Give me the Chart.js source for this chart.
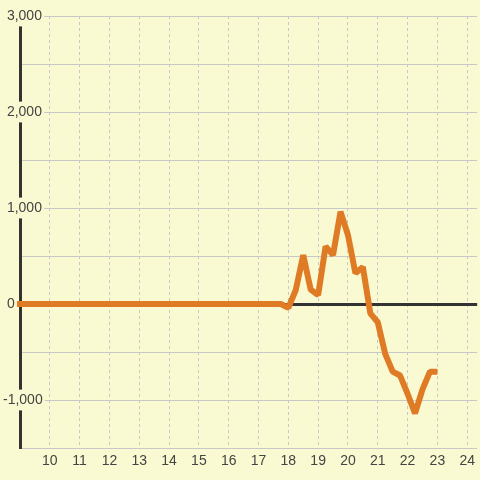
<!DOCTYPE html>
<html>
<head>
<meta charset="utf-8">
<script src="https://cdn.jsdelivr.net/npm/chart.js@4"></script>
<style>
  html, body { margin: 0; padding: 0; background: #fafad2; }
  #wrap { width: 480px; height: 480px; }
</style>
</head>
<body>
<div id="wrap"><canvas id="chart" width="480" height="480"></canvas></div>
<script>
// hours of the day (quarter-hour readings) and the value at each
const hours = [8.75, 17.75, 18, 18.25, 18.5, 18.75, 19, 19.25, 19.5, 19.75, 20, 20.25, 20.5,
  20.75, 21, 21.25, 21.5, 21.75, 22, 22.25, 22.5, 22.75, 23];
const values = [0, 0, -40, 146, 510, 150, 94, 600, 510, 962, 719, 320, 385,
  -97, -190, -520, -705, -745, -935, -1140, -890, -705, -705];

const xTicks = [10, 11, 12, 13, 14, 15, 16, 17, 18, 19, 20, 21, 22, 23, 24];
const yMin = -1500;
const yMax = 3000;

const bg = '#fafad2';
const textColor = '#444';
const gridColor = '#c8c8c8';

Chart.defaults.font.family = '"Liberation Sans", Arial, sans-serif';
Chart.defaults.font.size = 14;
Chart.defaults.color = textColor;

const ctx = document.getElementById('chart').getContext('2d');

const chart = new Chart(ctx, {
  type: 'line',
  data: {
    datasets: [{
      data: hours.map((h, i) => ({ x: h, y: values[i] })),
      borderColor: 'rgb(224, 123, 37)',
      borderWidth: 6,
      borderJoinStyle: 'bevel',
      pointRadius: 0,
      tension: 0,
      fill: false,
      clip: 3
    }]
  },
  options: {
    responsive: false,
    animation: false,
    layout: { padding: { top: 16, right: 0, left: 0, bottom: 0 } },
    plugins: {
      legend: { display: false },
      tooltip: { enabled: false }
    },
    scales: {
      x: {
        type: 'linear',
        min: 9,
        max: 24 + 1 / 3,
        afterBuildTicks: (scale) => {
          scale.ticks = xTicks.map(v => ({ value: v }));
        },
        afterFit: (scale) => { scale.height = 32; },
        ticks: {
          autoSkip: false,
          maxRotation: 0,
          padding: 5,
          callback: (v) => String(v)
        },
        grid: { color: gridColor, drawTicks: false },
        border: { display: false, dash: [3, 3] }
      },
      y: {
        min: yMin,
        max: yMax,
        afterFit: (scale) => { scale.width = 20; },
        ticks: {
          stepSize: 500,
          mirror: true,
          padding: -17,
          showLabelBackdrop: true,
          backdropPadding: 2,
          backdropColor: (c) => (c.tick && c.tick.value % 1000 === 0 && c.tick.value !== 0) ? bg : 'rgba(0,0,0,0)',
          callback: (v) => {
            if (v % 1000 !== 0) return '';
            const s = v.toLocaleString('en-US');
            return v < 0 ? s : ' ' + s;
          }
        },
        grid: {
          drawTicks: false,
          color: (c) => (c.tick && c.tick.value === 0) ? '#333' : gridColor,
          lineWidth: (c) => (c.tick && c.tick.value === 0) ? 3 : 1
        },
        border: { display: true, color: '#333', width: 3 }
      }
    }
  }
});
</script>
</body>
</html>
